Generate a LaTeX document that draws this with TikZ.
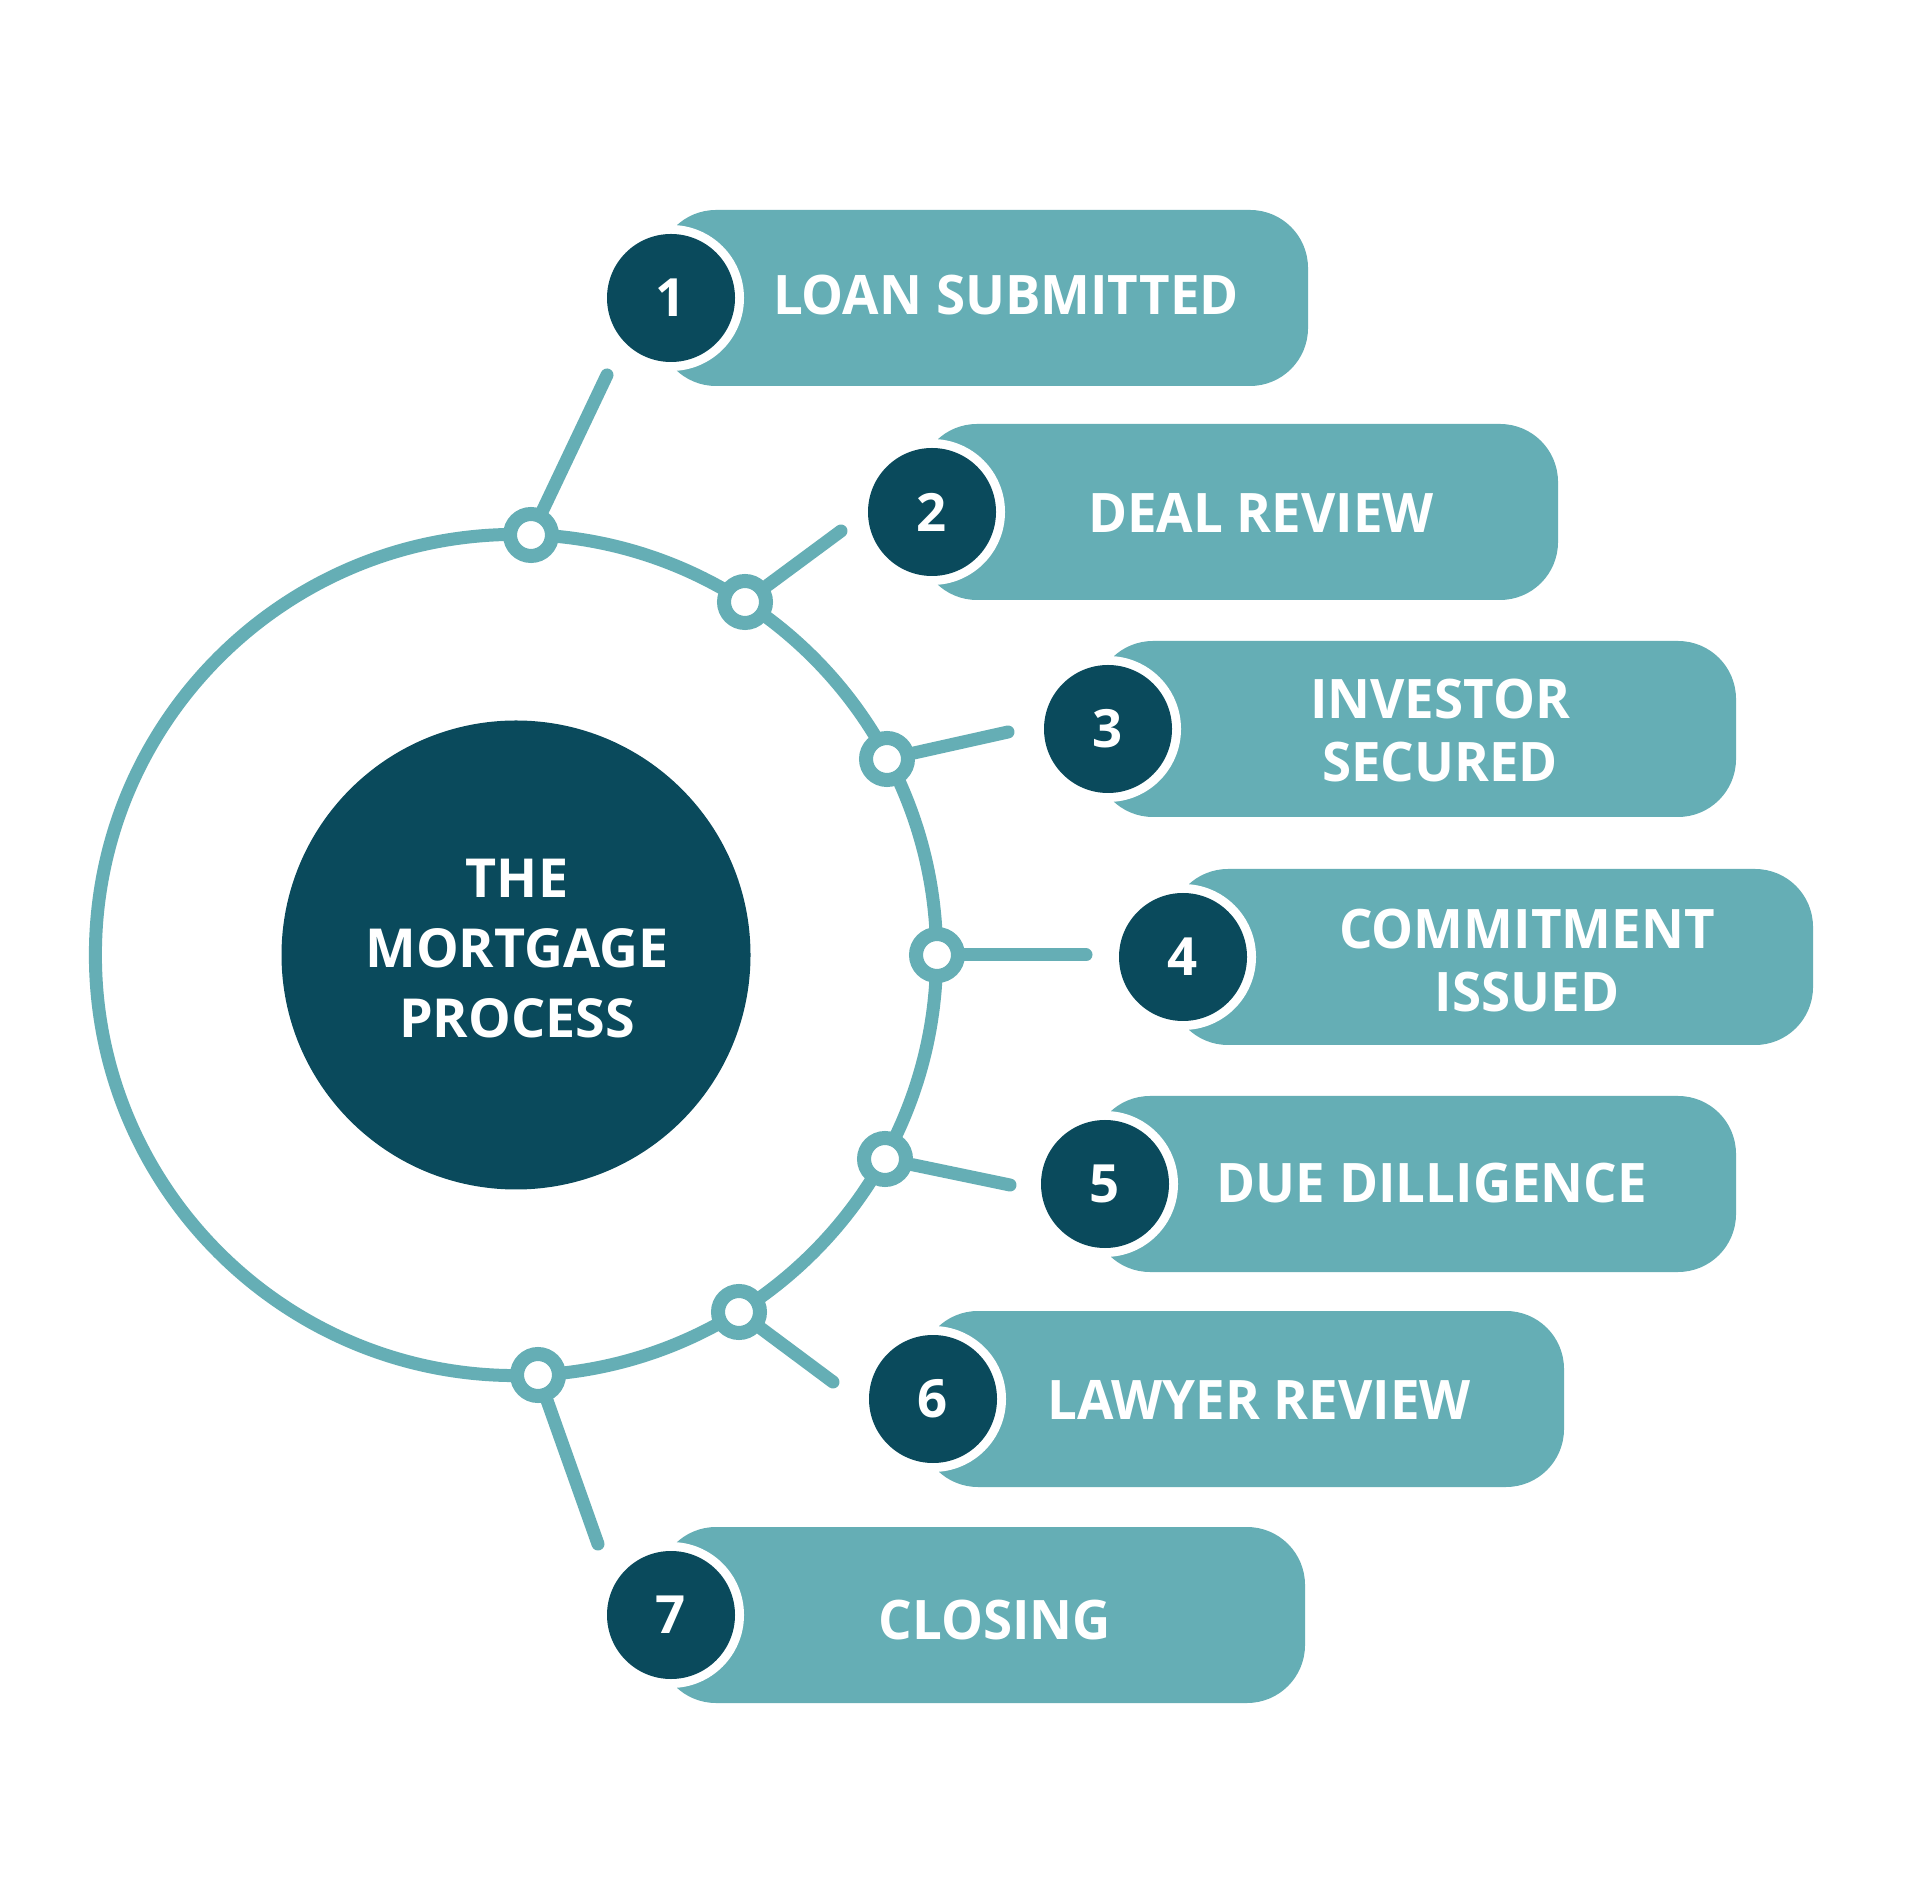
\documentclass[tikz,border=0pt]{standalone}
\usepackage{fontspec}
\setmainfont{Open Sans}
\newfontfamily\stepfont{Open Sans Bold}[FakeStretch=0.97]
\newfontfamily\corefont{Open Sans Bold}
\definecolor{tealline}{RGB}{101,174,181}
\definecolor{darkdisc}{RGB}{10,74,92}

\begin{document}
\begin{tikzpicture}[
  ring/.style={draw=tealline, line width=0.13cm},
  spoke/.style={draw=tealline, line width=0.13cm, line cap=round},
  marker/.style={circle, draw=tealline, fill=white, line width=0.14cm, minimum size=0.42cm, inner sep=0pt},
  box/.style={fill=tealline, rounded corners=0.58cm},
  halo/.style={circle, fill=white, minimum size=1.46cm, inner sep=0pt},
  numdisc/.style={circle, fill=darkdisc, minimum size=1.28cm, inner sep=0pt, text=white, font=\fontsize{15}{18}\selectfont\corefont},
  steplabel/.style={text=white, align=center, font=\fontsize{15.5}{17.8}\selectfont\stepfont},
  corelabel/.style={text=white, align=center, font=\fontsize{15.3}{19.9}\selectfont\corefont}
]
\fill[white] (0,0) rectangle (19.2,18.96);
\useasboundingbox (0,0) rectangle (19.2,18.96);

% big ring and the centre disc
\coordinate (o) at (5.16,9.41);
\draw[ring] (o) circle (4.206);
\node[circle, fill=darkdisc, minimum size=4.69cm, inner sep=0pt] (core) at (o) {};
\node[corelabel] (title) at (5.17,9.47) {THE\\MORTGAGE\\PROCESS};

% spoke ends
\coordinate (e1) at (6.07,15.21);
\coordinate (e2) at (8.41,13.65);
\coordinate (e3) at (10.08,11.64);
\coordinate (e4) at (10.86,9.41);
\coordinate (e5) at (10.10,7.11);
\coordinate (e6) at (8.33,5.14);
\coordinate (e7) at (5.98,3.52);

% markers on the ring
\node[marker] (m1) at (5.31,13.61) {};
\node[marker] (m2) at (7.45,12.94) {};
\node[marker] (m3) at (8.87,11.37) {};
\node[marker] (m4) at (9.37,9.41) {};
\node[marker] (m5) at (8.85,7.37) {};
\node[marker] (m6) at (7.39,5.84) {};
\node[marker] (m7) at (5.38,5.21) {};
\draw[spoke] (m1) -- (e1);
\draw[spoke] (m2) -- (e2);
\draw[spoke] (m3) -- (e3);
\draw[spoke] (m4) -- (e4);
\draw[spoke] (m5) -- (e5);
\draw[spoke] (m6) -- (e6);
\draw[spoke] (m7) -- (e7);

% step boxes
\fill[box] (6.58,15.10) rectangle (13.08,16.86);
\node[halo] (h1) at (6.71,15.98) {};
\node[numdisc] (n1) at (6.71,15.98) {1};
\node[steplabel] (t1) at (10.06,16.01) {LOAN SUBMITTED};

\fill[box] (9.19,12.96) rectangle (15.58,14.72);
\node[halo] (h2) at (9.32,13.84) {};
\node[numdisc] (n2) at (9.32,13.84) {2};
\node[steplabel] (t2) at (12.61,13.83) {DEAL REVIEW};

\fill[box] (10.95,10.79) rectangle (17.36,12.55);
\node[halo] (h3) at (11.08,11.67) {};
\node[numdisc] (n3) at (11.08,11.67) {3};
\node[steplabel] (t3) at (14.40,11.655) {INVESTOR\\SECURED};

\fill[box] (11.70,8.51) rectangle (18.13,10.27);
\node[halo] (h4) at (11.83,9.39) {};
\node[numdisc] (n4) at (11.83,9.39) {4};
\node[steplabel] (t4) at (15.27,9.355) {COMMITMENT\\ISSUED};

\fill[box] (10.92,6.24) rectangle (17.36,8.00);
\node[halo] (h5) at (11.05,7.12) {};
\node[numdisc] (n5) at (11.05,7.12) {5};
\node[steplabel] (t5) at (14.32,7.13) {DUE DILLIGENCE};

\fill[box] (9.20,4.09) rectangle (15.64,5.85);
\node[halo] (h6) at (9.33,4.97) {};
\node[numdisc] (n6) at (9.33,4.97) {6};
\node[steplabel] (t6) at (12.59,4.96) {LAWYER REVIEW};

\fill[box] (6.58,1.93) rectangle (13.05,3.69);
\node[halo] (h7) at (6.71,2.81) {};
\node[numdisc] (n7) at (6.71,2.81) {7};
\node[steplabel] (t7) at (9.95,2.76) {CLOSING};
\end{tikzpicture}
\end{document}
